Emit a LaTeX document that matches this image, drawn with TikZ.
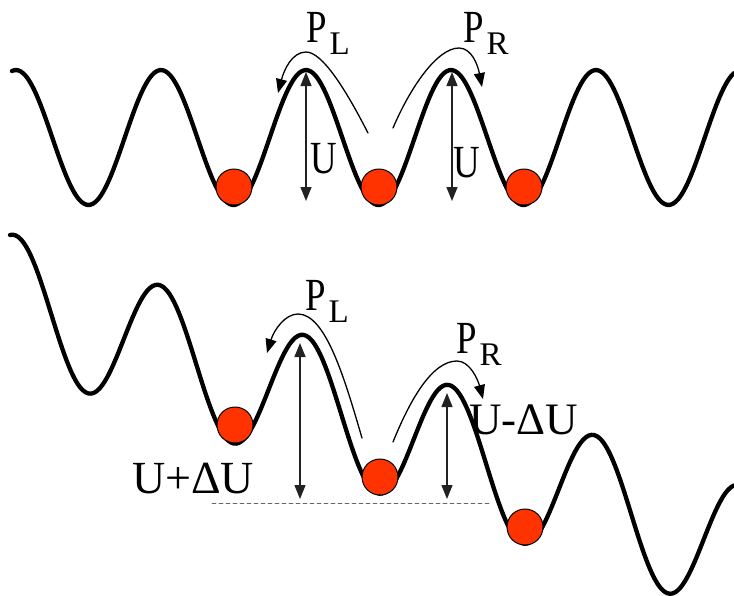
\documentclass[tikz,border=0pt]{standalone}
\usepackage{fontspec}
\setmainfont{Liberation Serif}
\usetikzlibrary{arrows.meta}
\newcommand{\Unit}{1pt}
\newcommand{\Wave}{4.3pt}
\newcommand{\Thin}{1.3pt}
\newcommand{\Period}{145}
\newcommand{\Sub}[1]{\kern3pt\raisebox{-12pt}{\fontsize{33}{33}\selectfont #1}}
\newcommand{\Slim}[1]{\scalebox{0.8}[1]{#1}}
\definecolor{bead}{HTML}{FF3300}
\definecolor{ink}{HTML}{000000}
\definecolor{rule}{HTML}{222222}
\definecolor{floorline}{HTML}{666666}

\begin{document}
\begin{tikzpicture}[x=\Unit,y=-\Unit, line join=round, line cap=round,
  wave/.style={ink,line width=\Wave},
  bead/.style={circle,fill=bead,draw=ink,line width=1pt,minimum size=36pt,inner sep=0pt},
  lbl/.style={inner sep=0pt,anchor=base west,font=\fontsize{46}{46}\selectfont},
  dim/.style={rule,line width=\Thin,{Triangle[length=14pt,width=11pt]}-{Triangle[length=14pt,width=11pt]}},
  hop/.style={ink,line width=\Thin,-{Triangle[length=14pt,width=11pt]}}]
  \useasboundingbox (0,0) rectangle (734,595);

  % ---- flat lattice, top ----------------------------------------------------
  \draw[wave] plot[domain=12:734,samples=260,smooth]
    (\x,{137.5-67.5*cos((\x-306)/\Period*360)});

  \node[bead] (t1) at (234,187) {};
  \node[bead] (t2) at (379,187) {};
  \node[bead] (t3) at (524,187) {};

  % barrier heights
  \coordinate (tpeakL) at (306,72);
  \coordinate (tbaseL) at (306,201);
  \coordinate (tpeakR) at (452,72);
  \coordinate (tbaseR) at (452,201);
  \draw[dim] (tpeakL) -- (tbaseL);
  \draw[dim] (tpeakR) -- (tbaseR);
  \node[lbl] (tUL) at (310,173) {\Slim{U}};
  \node[lbl] (tUR) at (453,177) {\Slim{U}};

  % jumps out of the middle well
  \coordinate (thopL) at (368,133);
  \coordinate (tlandL) at (278,93);
  \coordinate (thopR) at (393,128);
  \coordinate (tlandR) at (482,87);
  \draw[hop] (thopL) .. controls (345,88) and (322,52) .. (306,52)
    .. controls (292,52) and (284,70) .. (tlandL);
  \draw[hop] (thopR) .. controls (410,88) and (437,48) .. (459,48)
    .. controls (472,48) and (478,66) .. (tlandR);
  \node[lbl] (tPL) at (306,42) {\Slim{P}\Sub{L}};
  \node[lbl] (tPR) at (463,42) {\Slim{P}\Sub{R}};

  % ---- tilted lattice, bottom -----------------------------------------------
  \draw[wave] plot[domain=10:734,samples=260,smooth]
    (\x,{400+0.345*(\x-300)-66.5*cos((\x-305)/\Period*360)});

  \node[bead] (b1) at (235,425) {};
  \node[bead] (b2) at (380,477) {};
  \node[bead] (b3) at (525,527) {};

  % common floor for both barriers
  \coordinate (floorW) at (212,503);
  \coordinate (floorE) at (490,503);
  \draw[floorline,line width=0.8pt,dash pattern=on 4pt off 3pt] (floorW) -- (floorE);

  \coordinate (bpeakL) at (300,343);
  \coordinate (bbaseL) at (300,499);
  \coordinate (bpeakR) at (447,393);
  \coordinate (bbaseR) at (447,499);
  \draw[dim] (bpeakL) -- (bbaseL);
  \draw[dim] (bpeakR) -- (bbaseR);
  \node[lbl] (bUp) at (132,493) {U+ΔU};
  \node[lbl,font=\fontsize{45}{45}\selectfont] (bDown) at (469,434) {U-ΔU};

  \coordinate (bhopL) at (362,438);
  \coordinate (blandL) at (267,353);
  \coordinate (bhopR) at (393,442);
  \coordinate (blandR) at (483,399);
  \draw[hop] (bhopL) .. controls (345,380) and (326,314) .. (298,314)
    .. controls (285,314) and (274,330) .. (blandL);
  \draw[hop] (bhopR) .. controls (410,400) and (432,361) .. (457,361)
    .. controls (470,361) and (478,380) .. (blandR);
  \node[lbl] (bPL) at (305,310) {\Slim{P}\Sub{L}};
  \node[lbl] (bPR) at (456,353) {\Slim{P}\Sub{R}};

\end{tikzpicture}
\end{document}
